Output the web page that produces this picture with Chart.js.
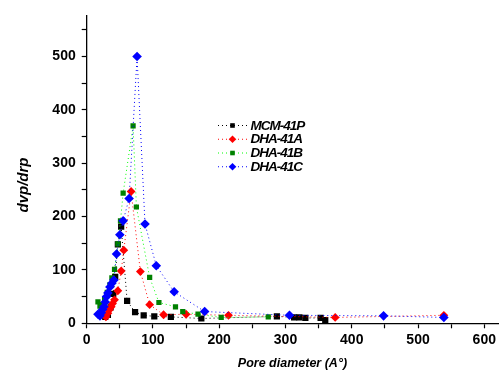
<!DOCTYPE html>
<html lang="en">
<head>
<meta charset="UTF-8">
<title>Pore size distribution</title>
<script src="https://cdn.jsdelivr.net/npm/chart.js"></script>
<style>
  html, body { margin: 0; padding: 0; background: #fff; }
  #wrap { width: 503px; height: 370px; }
</style>
</head>
<body>
<div id="wrap"><canvas id="chart"></canvas></div>
<script>
  // series names, in legend order
  var seriesNames = ['MCM-41P', 'DHA-41A', 'DHA-41B', 'DHA-41C'];

  // pore diameter (A) and dvp/drp
  var mcmX = [28, 32, 36, 40, 43, 47, 52, 61, 73, 86, 102, 127, 173, 287, 313, 321, 330, 353, 360];
  var mcmY = [12, 16, 30, 55, 87, 148, 181, 42, 21, 15, 13, 12, 9, 13, 11, 11, 10, 10, 6];

  var dhaAX = [29, 32, 34, 37, 39, 42, 47, 52, 56, 67, 81, 95, 116, 150, 214, 375, 539];
  var dhaAY = [12, 19, 25, 31, 37, 44, 61, 98, 137, 247, 97, 35, 16, 17, 15, 11, 15];

  var dhaBX = [17, 20, 23, 27, 31, 35, 38, 42, 47, 51, 55, 70, 75, 95, 109, 134, 145, 168, 203, 274];
  var dhaBY = [40, 32, 35, 46, 58, 72, 85, 101, 149, 192, 244, 370, 218, 86, 39, 31, 22, 17, 11, 12];

  var dhaCX = [17, 20, 22, 24, 26, 28, 30, 32, 35, 38, 41, 45, 50, 55, 64, 76, 88, 105, 132, 178, 306, 448, 539];
  var dhaCY = [17, 14, 20, 26, 31, 40, 50, 57, 68, 75, 81, 130, 166, 192, 234, 500, 186, 108, 59, 22, 15, 14, 11];

  var xTickLabels = [0, 100, 200, 300, 400, 500, 600];
  var yTickLabels = [0, 100, 200, 300, 400, 500];
  var xMinorTicks = [50, 150, 250, 350, 450, 550];
  var yMinorTicks = [50, 150, 250, 350, 450, 550];

  function pts(xs, ys) {
    return xs.map(function (x, i) { return { x: x, y: ys[i] }; });
  }

  function tickList(major, minor) {
    return major.concat(minor).sort(function (a, b) { return a - b; })
      .map(function (v) { return { value: v }; });
  }

  var tickFont = { family: '"Liberation Sans", Arial, sans-serif', size: 14, weight: 'bold' };

  // legend drawn inside the plot (dotted line with the marker in the middle) and the y title
  var insideLegend = {
    id: 'insideLegend',
    afterDatasetsDraw: function (chart) {
      var ctx = chart.ctx;
      var sizes = [2.3, 3.8, 2.3, 3.8];
      seriesNames.forEach(function (name, i) {
        var ds = chart.data.datasets[i];
        var y = 125.5 + i * 13.75;
        ctx.save();
        ctx.strokeStyle = ds.borderColor;
        ctx.lineWidth = 1;
        ctx.setLineDash([1, 3]);
        ctx.beginPath();
        ctx.moveTo(218, y);
        ctx.lineTo(247, y);
        ctx.stroke();
        ctx.setLineDash([]);
        ctx.fillStyle = ds.pointBackgroundColor;
        var s = sizes[i];
        ctx.beginPath();
        if (ds.pointStyle === 'rectRot') {
          ctx.moveTo(232.5, y - s);
          ctx.lineTo(232.5 + s, y);
          ctx.lineTo(232.5, y + s);
          ctx.lineTo(232.5 - s, y);
          ctx.closePath();
        } else {
          ctx.rect(232.5 - s, y - s, 2 * s, 2 * s);
        }
        ctx.fill();
        ctx.fillStyle = '#000';
        ctx.font = 'italic bold 13.5px "Liberation Sans", Arial, sans-serif';
        ctx.letterSpacing = '-1px';
        ctx.textBaseline = 'middle';
        ctx.fillText(name, 250.5, y + 0.5);
        ctx.restore();
      });
    },
    afterDraw: function (chart) {
      var ctx = chart.ctx;
      ctx.save();
      ctx.translate(24, 185);
      ctx.rotate(-Math.PI / 2);
      ctx.fillStyle = '#000';
      ctx.font = 'italic bold 15px "Liberation Sans", Arial, sans-serif';
      ctx.textAlign = 'center';
      ctx.textBaseline = 'middle';
      ctx.fillText('dvp/drp', 0, 0);
      ctx.restore();
    }
  };

  new Chart(document.getElementById('chart'), {
    type: 'scatter',
    data: {
      datasets: [
        {
          label: seriesNames[0], data: pts(mcmX, mcmY), showLine: true, order: 4,
          borderColor: '#000000', borderWidth: 1, borderDash: [1, 3],
          pointStyle: 'rect', pointRadius: 4.4, pointBackgroundColor: '#000000', pointBorderWidth: 0
        },
        {
          label: seriesNames[1], data: pts(dhaAX, dhaAY), showLine: true, order: 3,
          borderColor: '#ff0000', borderWidth: 1, borderDash: [1, 3],
          pointStyle: 'rectRot', pointRadius: 4.4, pointBackgroundColor: '#ff0000', pointBorderWidth: 0
        },
        {
          label: seriesNames[2], data: pts(dhaBX, dhaBY), showLine: true, order: 2,
          borderColor: '#00ff00', borderWidth: 1, borderDash: [1, 3],
          pointStyle: 'rect', pointRadius: 3.7, pointBackgroundColor: '#008000', pointBorderWidth: 0
        },
        {
          label: seriesNames[3], data: pts(dhaCX, dhaCY), showLine: true, order: 1,
          borderColor: '#0000ff', borderWidth: 1, borderDash: [1, 3],
          pointStyle: 'rectRot', pointRadius: 4.8, pointBackgroundColor: '#0000ff', pointBorderWidth: 0
        }
      ]
    },
    options: {
      responsive: true,
      maintainAspectRatio: false,
      animation: false,
      layout: { padding: { top: 16, right: 0, bottom: 0, left: 0 } },
      plugins: {
        legend: { display: false },
        tooltip: { enabled: false }
      },
      elements: { line: { tension: 0 } },
      scales: {
        x: {
          type: 'linear',
          min: 0,
          max: 621,
          afterFit: function (axis) { axis.height = 46.7; },
          afterBuildTicks: function (axis) { axis.ticks = tickList(xTickLabels, xMinorTicks); },
          border: { color: '#000', width: 1.3 },
          grid: { display: true, drawOnChartArea: false, tickLength: 5, tickColor: '#000', tickWidth: 1.2 },
          ticks: {
            autoSkip: false,
            maxRotation: 0,
            padding: 3,
            color: '#000',
            font: tickFont,
            callback: function (v) { return xTickLabels.indexOf(v) >= 0 ? String(v) : ''; }
          },
          title: {
            display: true,
            text: 'Pore diameter (A°)',
            color: '#000',
            padding: { top: 0, bottom: 0 },
            font: { family: '"Liberation Sans", Arial, sans-serif', size: 12.5, weight: 'bold', style: 'italic', lineHeight: 1 }
          }
        },
        y: {
          type: 'linear',
          min: 0,
          max: 576,
          afterFit: function (axis) { axis.width = 86.7; },
          afterBuildTicks: function (axis) { axis.ticks = tickList(yTickLabels, yMinorTicks); },
          border: { color: '#000', width: 1.3 },
          grid: { display: true, drawOnChartArea: false, tickLength: 5, tickColor: '#000', tickWidth: 1.2 },
          ticks: {
            autoSkip: false,
            padding: 6,
            color: '#000',
            font: tickFont,
            callback: function (v) { return yTickLabels.indexOf(v) >= 0 ? String(v) : ''; }
          }
        }
      }
    },
    plugins: [insideLegend]
  });
</script>
</body>
</html>
